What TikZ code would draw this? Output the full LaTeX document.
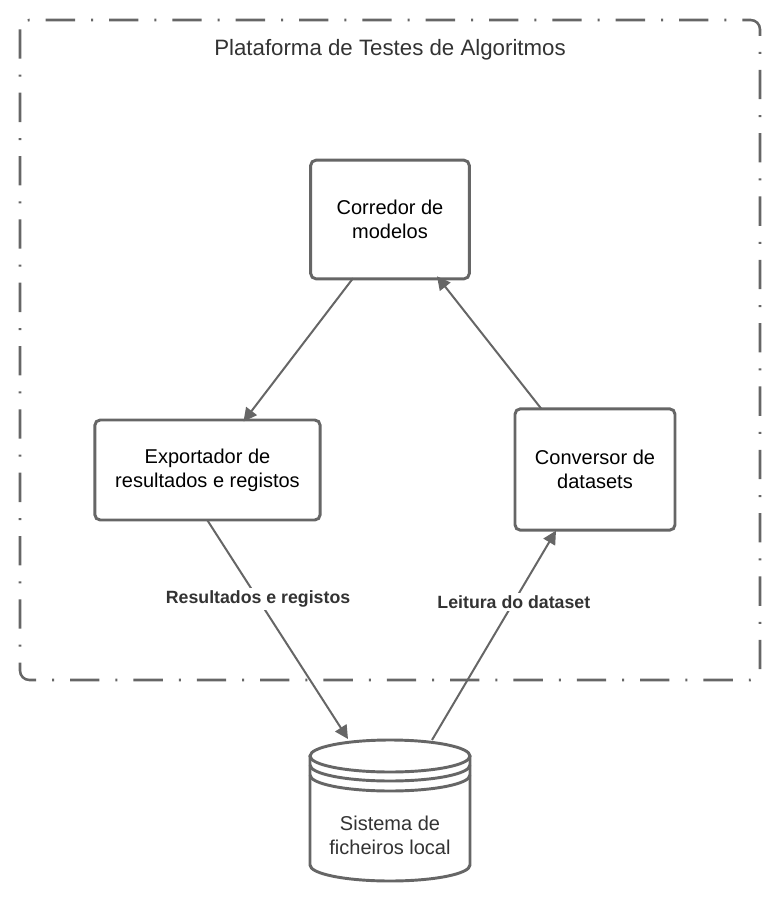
\documentclass[tikz,border=0pt]{standalone}
\usepackage{fontspec}
\setmainfont{Liberation Sans}
\usetikzlibrary{arrows.meta,calc}
\definecolor{linegray}{HTML}{666666}
\definecolor{textgray}{HTML}{333333}
\begin{document}
\begin{tikzpicture}[x=0.75pt,y=-0.75pt,
  procbox/.style={draw=linegray,line width=2.2pt,rounded corners=4pt,fill=white,
    align=center,text=black,font=\fontsize{15}{18}\selectfont,inner sep=0pt},
  conn/.style={draw=linegray,line width=1.5pt,-{Triangle[length=10pt,width=10pt]}},
  lbl/.style={fill=white,text=textgray,font=\fontsize{13.3}{15}\selectfont\bfseries,inner sep=2pt},
  frame/.style={draw=linegray,line width=1.9pt,rounded corners=7pt,
    dash pattern=on 22pt off 12pt on 1.5pt off 12pt},
  cyl/.style={draw=linegray,line width=2.2pt}]
\useasboundingbox (0,0) rectangle (780,900);
\draw[frame] (20,20) rectangle (760,680);
\node[text=textgray,font=\fontsize{16.7}{20}\selectfont] (title) at (390,50) {Plataforma de Testes de Algoritmos};

\node[procbox,minimum width=119pt,minimum height=89pt] (corr) at (390,219.5) {Corredor de\\modelos};
\node[procbox,minimum width=169pt,minimum height=75pt] (exp) at (207.5,470) {Exportador de\\resultados e registos};
\node[procbox,minimum width=120pt,minimum height=91pt] (conv) at (595,469.5) {Conversor de\\datasets};

% cylinder
\draw[cyl,fill=white] (310,756) -- (310,865) arc[start angle=180,end angle=0,x radius=80,y radius=16] -- (470,756);
\draw[cyl,fill=white] (390,756) ellipse[x radius=80,y radius=16];
\draw[cyl] (310,765) arc[start angle=180,end angle=0,x radius=80,y radius=16];
\draw[cyl] (310,775) arc[start angle=180,end angle=0,x radius=80,y radius=16];
\node[align=center,text=textgray,font=\fontsize{15}{18}\selectfont] (db) at (390,835) {Sistema de\\ficheiros local};
\coordinate (dbin) at (348,739);
\coordinate (dbout) at (432,740);

\draw[conn] ($(corr.south)+(-37,-2)$) -- ($(exp.north)+(36,3)$);
\draw[conn] ($(conv.north)+(-54,1)$) -- ($(corr.south)+(47,-4)$);
\draw[conn] ($(exp.south)+(0,-1)$) -- node[lbl,pos=0.36] {Resultados e registos} (dbin);
\draw[conn] (dbout) -- node[lbl,pos=0.66] {Leitura do dataset} ($(conv.south)+(-39,-1)$);
\end{tikzpicture}
\end{document}
